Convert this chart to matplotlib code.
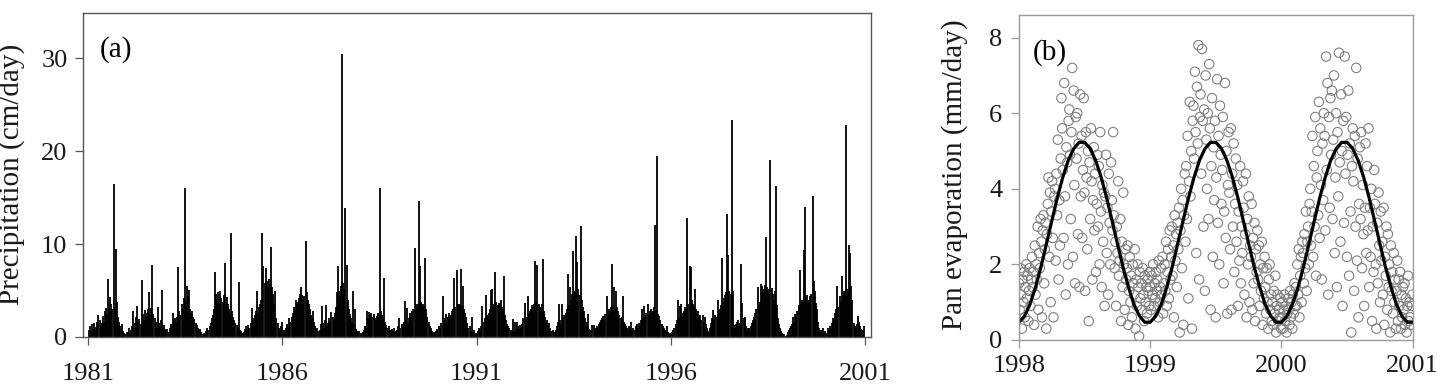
import numpy as np
import matplotlib.pyplot as plt

plt.rcParams['font.family'] = ['Liberation Serif', 'DejaVu Serif']

# (a) daily precipitation (cm/day), max value per ten-day period, 36 per year
p1981 = [0.8,1.2,0.6,1.4,0.9,1.5,0.7,1.1,1.6,2.4, 1.8,1.2,1.5,2.3,1.6,2.8,3.1,2.5,6.2,3.4, 4.3,3.6,3.0,16.5,3.2,9.5,3.8,2.1,1.6,1.2, 0.8,1.4,0.6,0.4,0.3,0.5]
p1982 = [0.5,1.0,0.4,0.8,1.2,2.8,1.0,1.5,2.2,3.3, 1.6,1.9,1.4,6.1,2.5,1.8,2.9,2.2,2.6,3.0, 4.8,2.4,3.1,7.7,2.5,2.0,1.6,1.2,3.2,1.5, 1.1,1.8,5.1,1.0,1.3,0.9]
p1983 = [0.6,0.9,0.5,1.0,1.4,1.2,2.6,1.8,2.0,1.5, 2.2,7.5,2.8,2.4,3.5,3.0,4.2,16.0,3.8,5.5, 4.5,5.1,3.0,2.6,2.8,2.2,1.9,1.5,1.3,1.0, 0.8,0.9,0.5,0.3,0.2,0.4]
p1984 = [0.3,0.6,1.0,0.8,1.2,1.5,2.0,2.4,3.0,7.0, 4.6,4.0,4.8,3.5,4.9,4.2,3.8,4.5,8.0,3.6, 4.3,3.5,3.0,2.6,11.2,2.8,2.2,1.8,1.5,1.3, 1.0,5.9,0.8,0.6,0.4,0.3]
p1985 = [0.5,0.9,1.2,0.7,1.3,1.0,1.5,3.1,1.8,2.0, 2.4,2.8,5.0,2.6,3.2,3.5,4.0,11.2,7.6,5.8, 7.4,6.0,5.5,6.2,5.8,9.7,5.4,4.6,3.5,5.0, 2.0,1.5,1.0,0.8,1.2,1.6]
p1986 = [0.3,0.8,0.5,1.0,1.4,1.2,2.0,1.6,2.2,2.6, 3.2,3.0,4.0,3.6,3.8,4.2,4.6,5.4,4.5,4.0, 4.4,10.3,4.8,4.0,3.5,3.0,2.4,2.0,2.8,1.6, 1.2,0.9,1.0,0.6,0.8,1.4]
p1987 = [3.3,1.5,1.0,1.8,3.4,1.2,1.5,2.0,1.6,2.7, 2.2,1.8,2.6,3.2,4.8,7.6,4.5,5.0,5.5,30.4, 5.8,5.2,13.9,7.8,4.0,3.0,2.5,2.0,1.6,5.0, 1.4,3.0,0.9,0.6,0.4,0.6]
p1988 = [0.4,0.2,0.5,0.8,1.2,1.0,2.8,2.0,2.7,2.4, 2.6,2.2,2.5,2.0,1.8,2.3,2.6,2.1,16.0,2.8, 2.4,2.0,6.4,1.6,1.3,1.0,1.2,0.8,0.7,0.9, 0.5,1.0,0.4,0.6,0.8,1.2]
p1989 = [2.0,1.0,1.4,1.2,1.6,3.9,1.8,3.1,1.5,2.0, 2.6,2.2,2.8,3.0,9.6,3.5,3.2,3.6,14.6,7.6, 3.8,3.4,3.6,3.2,8.5,3.0,2.2,1.6,1.2,1.0, 0.6,0.4,0.5,0.3,0.6,0.9]
p1990 = [0.8,1.2,1.0,1.5,4.4,1.8,2.0,2.5,1.6,2.2, 2.6,2.0,2.4,2.8,3.0,6.4,3.2,7.2,3.6,3.5, 3.4,7.3,3.3,5.5,3.0,2.6,2.2,1.5,1.0,1.2, 0.6,2.1,0.5,0.8,0.3,0.4]
p1991 = [0.3,0.6,1.0,0.8,1.2,3.3,1.6,2.0,4.5,2.4, 2.2,2.6,3.0,5.1,5.2,3.2,3.6,7.0,3.8,3.4, 3.7,3.5,4.0,3.2,3.0,6.6,2.4,1.8,1.4,1.2, 1.0,0.8,0.6,1.9,0.5,1.6]
p1992 = [0.8,1.6,1.2,0.9,1.3,1.0,1.4,2.0,3.7,1.8, 2.2,4.4,2.5,2.8,3.0,3.4,3.2,3.6,8.2,3.8, 7.8,3.5,3.2,3.0,3.6,8.4,2.8,2.2,1.6,1.8, 1.2,1.5,1.0,0.6,0.8,0.5]
p1993 = [0.5,0.8,1.2,1.6,3.5,1.8,1.4,3.5,2.0,2.4, 2.6,3.0,6.8,3.4,5.4,4.0,4.6,9.3,5.0,4.8, 10.9,8.1,5.2,4.5,11.9,4.0,3.2,2.8,2.0,1.6, 1.2,2.5,0.9,0.6,0.8,1.3]
p1994 = [1.3,0.8,1.0,1.2,0.9,1.4,1.6,1.8,2.0,2.3, 1.8,2.5,4.4,2.6,3.0,2.8,3.2,7.9,3.4,5.4, 3.0,5.0,3.2,2.8,2.4,2.0,2.2,4.4,1.6,1.4, 1.2,1.0,0.8,1.2,0.9,1.6]
p1995 = [0.6,1.0,0.8,1.2,1.4,1.0,1.5,1.2,1.8,3.0, 2.0,3.3,2.2,2.6,3.5,2.4,2.8,3.0,2.6,2.8, 3.2,12.1,2.9,19.5,2.5,2.3,1.8,1.4,1.2,1.0, 0.8,0.6,1.2,0.5,0.3,0.4]
p1996 = [0.3,0.5,0.8,1.0,1.4,1.8,4.0,2.0,3.3,3.5, 2.4,2.6,2.8,3.2,3.0,12.8,3.6,7.6,7.5,4.0, 3.5,3.2,5.2,3.0,2.6,2.8,2.2,2.4,1.8,2.4, 1.6,2.2,1.4,1.0,0.6,0.4]
p1997 = [1.0,1.5,2.0,2.9,1.8,2.4,2.2,4.0,2.6,3.0, 3.4,8.5,3.8,4.2,4.5,4.8,13.2,8.8,5.0,4.6, 23.3,5.0,1.3,1.0,1.4,1.6,1.8,1.2,1.5,7.9, 3.7,2.0,2.2,1.2,0.8,1.0]
p1998 = [1.0,0.8,1.2,1.5,1.8,2.2,2.6,3.0,5.4,3.4, 3.8,5.7,5.5,4.8,5.2,5.6,10.8,5.4,5.0,5.2, 19.0,5.3,4.6,4.0,5.0,16.3,3.4,2.0,1.4,1.0, 0.6,0.4,0.2,0.3,0.1,0.2]
p1999 = [0.5,0.8,1.0,1.2,1.4,2.1,1.6,2.5,2.2,2.8, 3.4,7.2,3.6,4.0,3.8,9.4,14.0,4.2,4.5,3.7, 4.0,4.4,4.6,15.2,6.0,5.0,3.7,3.0,1.6,1.0, 0.8,0.5,0.7,1.0,0.3,0.6]
p2000 = [0.4,1.0,0.8,1.2,1.0,1.5,2.0,1.8,2.6,3.0, 5.5,3.2,4.4,3.8,6.6,4.5,5.0,4.8,22.8,5.2, 5.0,9.9,9.0,5.5,4.0,1.5,1.2,1.0,1.4,2.3, 1.6,1.2,0.9,0.6,0.8,1.2]

precip_years = list(range(1981, 2001))
precip_list = [p1981, p1982, p1983, p1984, p1985, p1986, p1987, p1988, p1989, p1990,
               p1991, p1992, p1993, p1994, p1995, p1996, p1997, p1998, p1999, p2000]

# (b) pan evaporation (mm/day), every second day
e1998 = [1.5,0.8,1.9,1.2,0.3,1.6,1.0,1.8,0.6,1.4,
         2.0,1.1,1.7,0.5,1.3,1.9,0.9,1.6,2.2,1.4,
         1.8,0.4,2.5,1.2,2.0,1.6,3.0,0.8,2.3,1.9,
         3.2,2.6,0.6,2.9,3.3,1.5,2.4,3.1,0.3,2.8,
         3.6,4.3,2.2,3.9,1.0,3.4,4.2,2.7,0.6,3.8,
         4.0,2.1,4.4,3.3,5.3,1.6,3.7,2.5,4.8,6.4,
         5.6,4.5,2.7,6.8,3.8,1.2,5.1,4.7,2.0,5.8,
         6.1,4.9,3.2,5.5,7.2,2.2,6.6,4.1,1.5,5.9,
         4.8,6.0,2.8,5.2,1.4,6.5,3.8,5.4,2.7,4.5,
         6.4,3.9,1.3,5.5,4.3,2.4,5.0,0.5,4.7,3.2,
         5.6,4.2,1.6,3.7,5.1,2.9,4.4,1.8,3.6,4.9,
         3.0,4.6,2.0,5.5,3.4,1.4,4.1,2.6,3.9,0.9,
         3.8,4.9,2.3,3.5,1.2,4.4,3.1,2.0,4.7,3.7,
         2.9,5.5,3.3,1.9,2.6,0.9,3.0,2.3,4.2,1.7,
         2.1,3.2,0.5,2.6,1.4,3.9,2.0,0.8,2.4,1.6,
         1.9,2.5,0.4,1.3,2.2,1.0,1.7,0.6,2.0,1.5,
         1.2,2.4,0.3,1.6,0.9,2.0,1.4,0.1,1.8,1.1,
         1.5,0.8,1.9,1.2,0.5,1.7,1.0,1.4,0.7,1.6,
         1.3,0.9,1.8]
e1999 = [1.4,0.8,1.7,1.2,2.0,0.9,1.5,1.1,1.8,1.3,
         1.6,0.6,2.1,1.0,1.4,1.9,1.2,2.2,0.7,1.5,
         2.0,1.3,2.6,0.9,1.8,2.4,1.1,2.9,1.6,2.2,
         3.0,1.7,2.5,0.6,3.3,2.1,2.8,1.4,3.1,2.4,
         3.5,0.2,2.9,4.0,1.9,3.7,0.4,3.3,4.4,2.6,
         4.6,3.2,5.4,1.1,4.2,6.3,3.8,5.0,0.3,5.8,
         6.2,4.8,7.1,5.5,2.3,6.7,5.2,7.8,1.6,5.9,
         6.5,4.4,7.7,5.8,3.0,6.1,1.3,7.0,5.3,4.0,
         6.0,3.2,7.3,5.6,0.8,4.6,6.4,2.2,5.1,3.7,
         5.8,0.6,4.3,6.9,3.1,5.4,2.0,6.2,4.9,3.6,
         4.5,5.9,1.5,3.4,6.8,2.7,5.0,0.7,4.1,5.5,
         3.9,2.4,5.6,0.8,4.4,3.0,5.2,1.8,3.6,4.8,
         2.6,4.1,0.9,3.4,2.1,4.6,1.5,3.0,2.3,4.2,
         3.5,1.2,2.8,4.4,0.6,3.2,2.0,3.8,1.0,2.5,
         2.2,3.6,0.8,2.7,1.5,3.1,0.5,2.4,1.8,2.9,
         1.6,2.5,0.9,2.0,1.3,2.6,0.4,1.9,1.1,2.2,
         1.4,0.7,1.9,1.0,0.3,1.6,2.0,0.8,1.2,0.5,
         1.0,0.4,1.3,0.7,1.7,0.2,0.9,1.2,0.5,0.8,
         0.6,1.1,0.3]
e2000 = [0.6,1.0,0.3,0.8,1.2,0.5,0.9,0.2,0.7,1.1,
         0.8,0.4,1.3,0.6,1.0,0.3,1.2,0.7,1.5,0.9,
         1.4,0.9,2.0,1.2,2.4,0.6,1.7,2.2,1.0,2.6,
         2.3,1.5,2.8,1.9,3.4,1.3,2.6,3.0,2.0,3.6,
         4.0,2.5,3.4,5.4,2.2,4.6,3.0,5.9,1.7,4.3,
         5.0,3.3,6.3,2.7,5.6,4.1,1.6,5.2,3.7,6.0,
         5.4,2.9,7.5,4.5,6.8,1.2,5.9,3.5,6.4,4.9,
         6.6,3.2,5.3,7.0,2.3,4.3,6.0,1.4,5.5,3.8,
         7.6,4.7,2.6,6.5,5.0,0.9,5.8,3.1,7.5,4.4,
         5.9,2.2,4.9,6.6,1.7,5.2,3.4,0.2,4.6,5.6,
         4.2,1.3,5.4,3.0,7.2,2.1,4.8,0.6,3.6,5.1,
         3.2,5.5,1.9,4.1,2.8,0.9,3.5,5.2,2.3,4.6,
         2.9,5.6,1.4,3.5,2.2,4.0,0.5,3.0,1.8,4.5,
         3.6,2.0,0.3,3.1,1.5,3.9,2.5,1.0,3.4,2.1,
         2.6,1.2,3.5,0.4,2.2,1.7,3.0,0.8,2.8,1.4,
         2.0,0.2,2.5,1.3,1.8,0.7,2.3,1.0,1.6,0.3,
         1.3,2.1,0.5,1.6,0.9,1.8,0.3,1.2,0.6,1.4,
         0.8,1.5,0.4,1.1,0.2,0.9,1.7,0.5,1.0,0.6,
         0.4,0.9,1.2]
evap_years = [1998, 1999, 2000]
evap_list = [e1998, e1999, e2000]

# fitted seasonal curve, 24 points per year (same every year)
fit_year = [0.47,0.63,0.94,1.38,1.92,2.53,3.15,3.76,4.30,4.75,5.06,5.23,
            5.23,5.07,4.76,4.32,3.78,3.17,2.55,1.94,1.41,0.95,0.64,0.47]

fs_tick = 19
fs_lab = 21

fig = plt.figure(figsize=(14.37, 3.89), dpi=100)

# ---- panel (a)
ax1 = fig.add_axes([0.0576, 0.1337, 0.5483, 0.8337])
px, py = [], []
for yr, vals in zip(precip_years, precip_list):
    for k, v in enumerate(vals):
        px.append(yr + (k + 0.5) / 36.0)
        py.append(v)
ax1.vlines(px, 0, py, color='black', lw=1.3)
ax1.set_xlim(1980.86, 2001.15)
ax1.set_ylim(0, 34.9)
ax1.set_xticks([1981, 1986, 1991, 1996, 2001])
ax1.set_yticks([0, 10, 20, 30])
for s in ax1.spines.values():
    s.set_color('#555555')
    s.set_linewidth(1.0)
ax1.tick_params(axis='both', direction='out', length=6, width=0.9, color='#555555',
                labelsize=fs_tick, labelcolor='#1a1a1a')
ax1.tick_params(axis='x', pad=13)
ax1.tick_params(axis='y', pad=5)
ax1.text(0.022, 0.885, '(a)', transform=ax1.transAxes, fontsize=fs_lab, va='center')
fig.text(12 / 1437, 1 - 174 / 389, 'Precipitation (cm/day)', rotation=90,
         ha='center', va='center', fontsize=fs_lab, color='#1a1a1a')

# ---- panel (b)
ax2 = fig.add_axes([0.7091, 0.1260, 0.2740, 0.8355])
for yr, vals in zip(evap_years, evap_list):
    t = yr + 2 * np.arange(len(vals)) / 365.0
    ax2.scatter(t, vals, s=46, facecolors='none', edgecolors='#808080', linewidths=0.8)
fit_t = []
fit_v = []
for yr in evap_years:
    for k, v in enumerate(fit_year):
        fit_t.append(yr + k / 24.0)
        fit_v.append(v)
fit_t.append(2001.0)
fit_v.append(fit_year[0])
ax2.plot(fit_t, fit_v, color='black', lw=2.3)
ax2.set_xlim(1998, 2001)
ax2.set_ylim(0, 8.6)
ax2.set_xticks([1998, 1999, 2000, 2001])
ax2.set_yticks([0, 2, 4, 6, 8])
for s in ax2.spines.values():
    s.set_color('#9a9a9a')
    s.set_linewidth(1.0)
ax2.tick_params(axis='both', direction='out', length=6, width=0.9, color='#9a9a9a',
                labelsize=fs_tick, labelcolor='#1a1a1a')
ax2.tick_params(axis='x', pad=5)
ax2.tick_params(axis='y', pad=6)
ax2.text(0.035, 0.885, '(b)', transform=ax2.transAxes, fontsize=fs_lab, va='center')
fig.text(955 / 1437, 1 - 175 / 389, 'Pan evaporation (mm/day)', rotation=90,
         ha='center', va='center', fontsize=fs_lab, color='#1a1a1a')

fig.savefig('out.png', dpi=100)
